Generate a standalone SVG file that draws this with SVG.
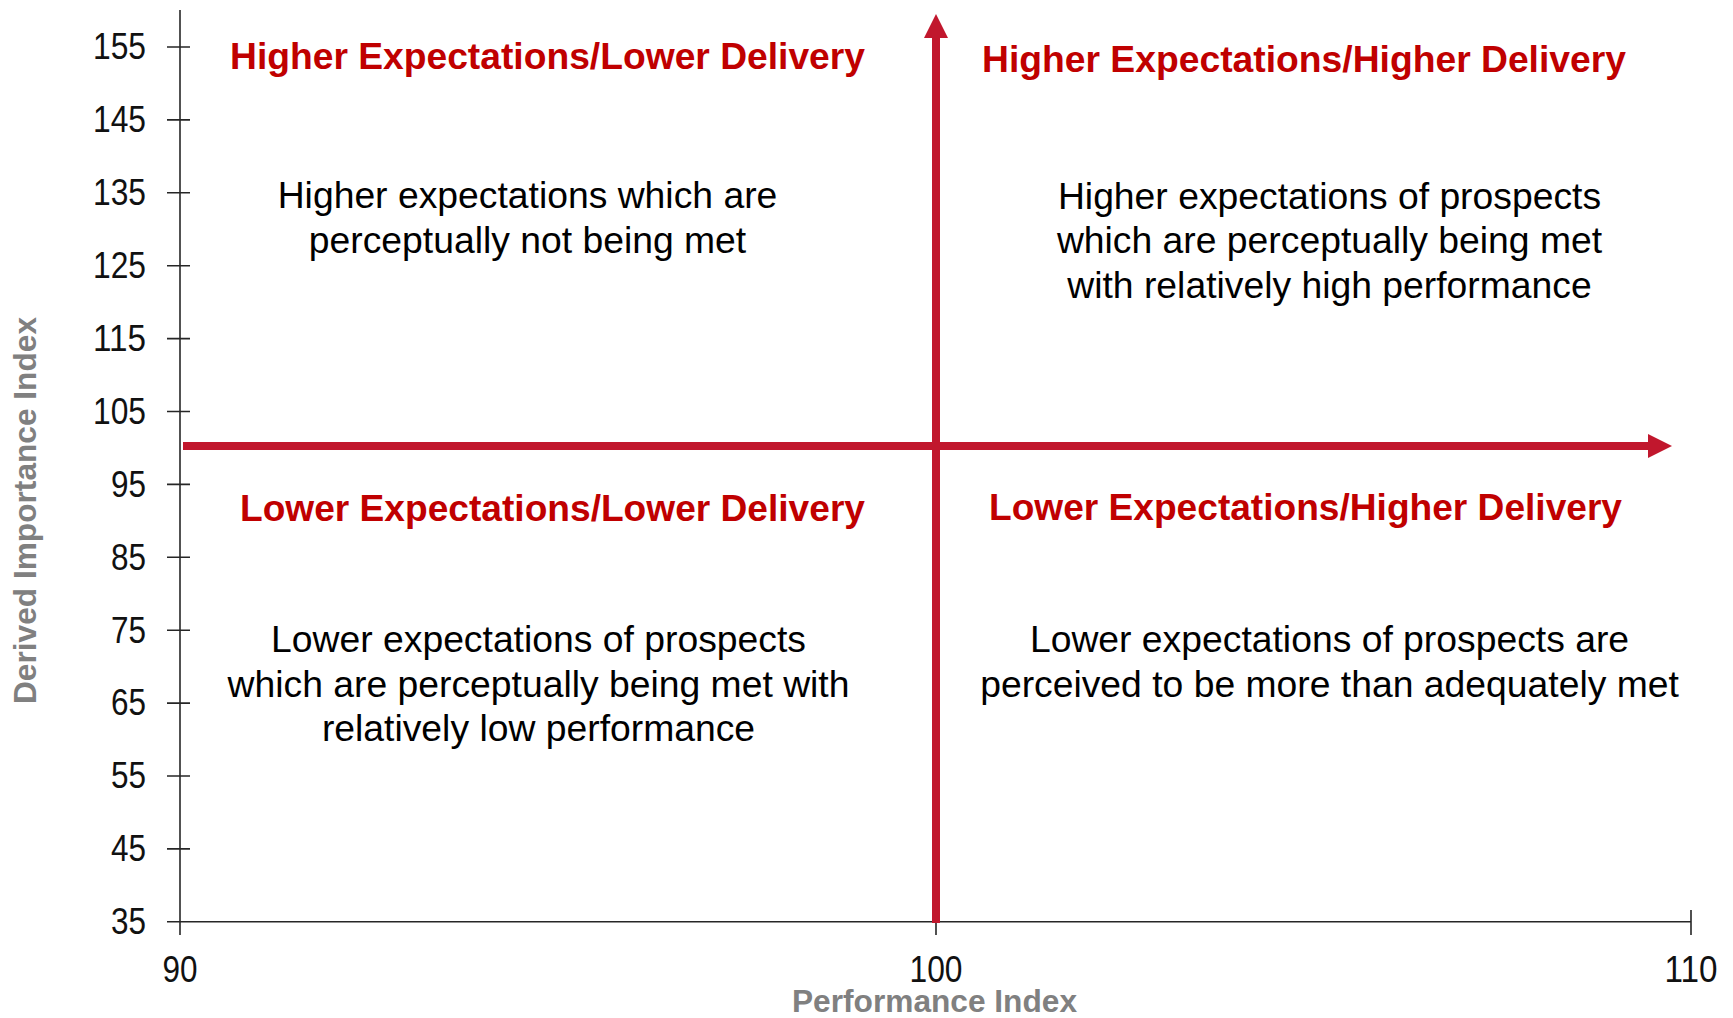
<svg xmlns="http://www.w3.org/2000/svg" width="1733" height="1018" viewBox="0 0 1733 1018">
  <style>
    .axis { stroke: #262626; stroke-width: 1.6; fill: none; }
    .tick { font-family: "Liberation Sans", Arial, sans-serif; font-size: 37px; fill: #111; }
    .title { font-family: "Liberation Sans", Arial, sans-serif; font-size: 31.7px; font-weight: bold; fill: #808080; }
    .head { font-family: "Liberation Sans", Arial, sans-serif; font-size: 37px; font-weight: bold; fill: #C00000; }
    .body { font-family: "Liberation Sans", Arial, sans-serif; font-size: 37.3px; fill: #000; text-anchor: middle; }
    .arrow { stroke: #C1172D; stroke-width: 8; fill: none; }
  </style>
  <defs>
    <marker id="head" viewBox="0 0 24 24" markerWidth="24" markerHeight="24" refX="0" refY="12" orient="auto" markerUnits="userSpaceOnUse">
      <path d="M0,0 L24,12 L0,24 Z" fill="#C1172D"/>
    </marker>
  </defs>
  <rect width="1733" height="1018" fill="#fff"/>

  <!-- axes and tick marks -->
  <g id="axes">
    <line class="axis" x1="180" y1="10" x2="180" y2="935"/>
    <line class="axis" x1="167" y1="921.8" x2="1691" y2="921.8"/>
    <path class="axis" d="M167,47H190 M167,119.9H190 M167,192.8H190 M167,265.7H190 M167,338.6H190 M167,411.5H190 M167,484.4H190 M167,557.3H190 M167,630.2H190 M167,703.1H190 M167,776H190 M167,848.9H190"/>
    <path class="axis" d="M936,921.8V935 M1691,910V935"/>
  </g>

  <!-- y tick labels -->
  <g id="y-labels" class="tick" text-anchor="end">
    <text x="146" y="59.3" textLength="53" lengthAdjust="spacingAndGlyphs">155</text>
    <text x="146" y="132.2" textLength="53" lengthAdjust="spacingAndGlyphs">145</text>
    <text x="146" y="205.1" textLength="53" lengthAdjust="spacingAndGlyphs">135</text>
    <text x="146" y="278" textLength="53" lengthAdjust="spacingAndGlyphs">125</text>
    <text x="146" y="350.9" textLength="53" lengthAdjust="spacingAndGlyphs">115</text>
    <text x="146" y="423.8" textLength="53" lengthAdjust="spacingAndGlyphs">105</text>
    <text x="146" y="496.7" textLength="35" lengthAdjust="spacingAndGlyphs">95</text>
    <text x="146" y="569.6" textLength="35" lengthAdjust="spacingAndGlyphs">85</text>
    <text x="146" y="642.5" textLength="35" lengthAdjust="spacingAndGlyphs">75</text>
    <text x="146" y="715.4" textLength="35" lengthAdjust="spacingAndGlyphs">65</text>
    <text x="146" y="788.3" textLength="35" lengthAdjust="spacingAndGlyphs">55</text>
    <text x="146" y="861.2" textLength="35" lengthAdjust="spacingAndGlyphs">45</text>
    <text x="146" y="934.1" textLength="35" lengthAdjust="spacingAndGlyphs">35</text>
  </g>

  <!-- x tick labels -->
  <g id="x-labels" class="tick">
    <text x="162.5" y="982" textLength="35" lengthAdjust="spacingAndGlyphs">90</text>
    <text x="909.5" y="982" textLength="53" lengthAdjust="spacingAndGlyphs">100</text>
    <text x="1664.5" y="982" textLength="53" lengthAdjust="spacingAndGlyphs">110</text>
  </g>

  <!-- axis titles -->
  <g id="axis-titles" class="title">
    <text x="792" y="1012" textLength="285" lengthAdjust="spacingAndGlyphs">Performance Index</text>
    <text transform="translate(36,510.5) rotate(-90)" text-anchor="middle" textLength="387" lengthAdjust="spacingAndGlyphs">Derived Importance Index</text>
  </g>

  <!-- quadrant dividers -->
  <g id="connectors">
    <line class="arrow" x1="936" y1="923" x2="936" y2="38" marker-end="url(#head)"/>
    <line class="arrow" x1="183" y1="446" x2="1648" y2="446" marker-end="url(#head)"/>
  </g>

  <g id="q-high-low">
    <text class="head" x="230" y="68.5" textLength="635" lengthAdjust="spacingAndGlyphs">Higher Expectations/Lower Delivery</text>
    <text class="body" x="527.5" y="208">Higher expectations which are</text>
    <text class="body" x="527.5" y="252.5">perceptually not being met</text>
  </g>

  <g id="q-high-high">
    <text class="head" x="982" y="72" textLength="644" lengthAdjust="spacingAndGlyphs">Higher Expectations/Higher Delivery</text>
    <text class="body" x="1329.5" y="208.5">Higher expectations of prospects</text>
    <text class="body" x="1329.5" y="253">which are perceptually being met</text>
    <text class="body" x="1329.5" y="297.5">with relatively high performance</text>
  </g>

  <g id="q-low-low">
    <text class="head" x="240" y="520.5" textLength="625" lengthAdjust="spacingAndGlyphs">Lower Expectations/Lower Delivery</text>
    <text class="body" x="538.5" y="652">Lower expectations of prospects</text>
    <text class="body" x="538.5" y="696.5">which are perceptually being met with</text>
    <text class="body" x="538.5" y="741">relatively low performance</text>
  </g>

  <g id="q-low-high">
    <text class="head" x="989" y="519.5" textLength="633" lengthAdjust="spacingAndGlyphs">Lower Expectations/Higher Delivery</text>
    <text class="body" x="1329.5" y="652">Lower expectations of prospects are</text>
    <text class="body" x="1329.5" y="696.5">perceived to be more than adequately met</text>
  </g>
</svg>
